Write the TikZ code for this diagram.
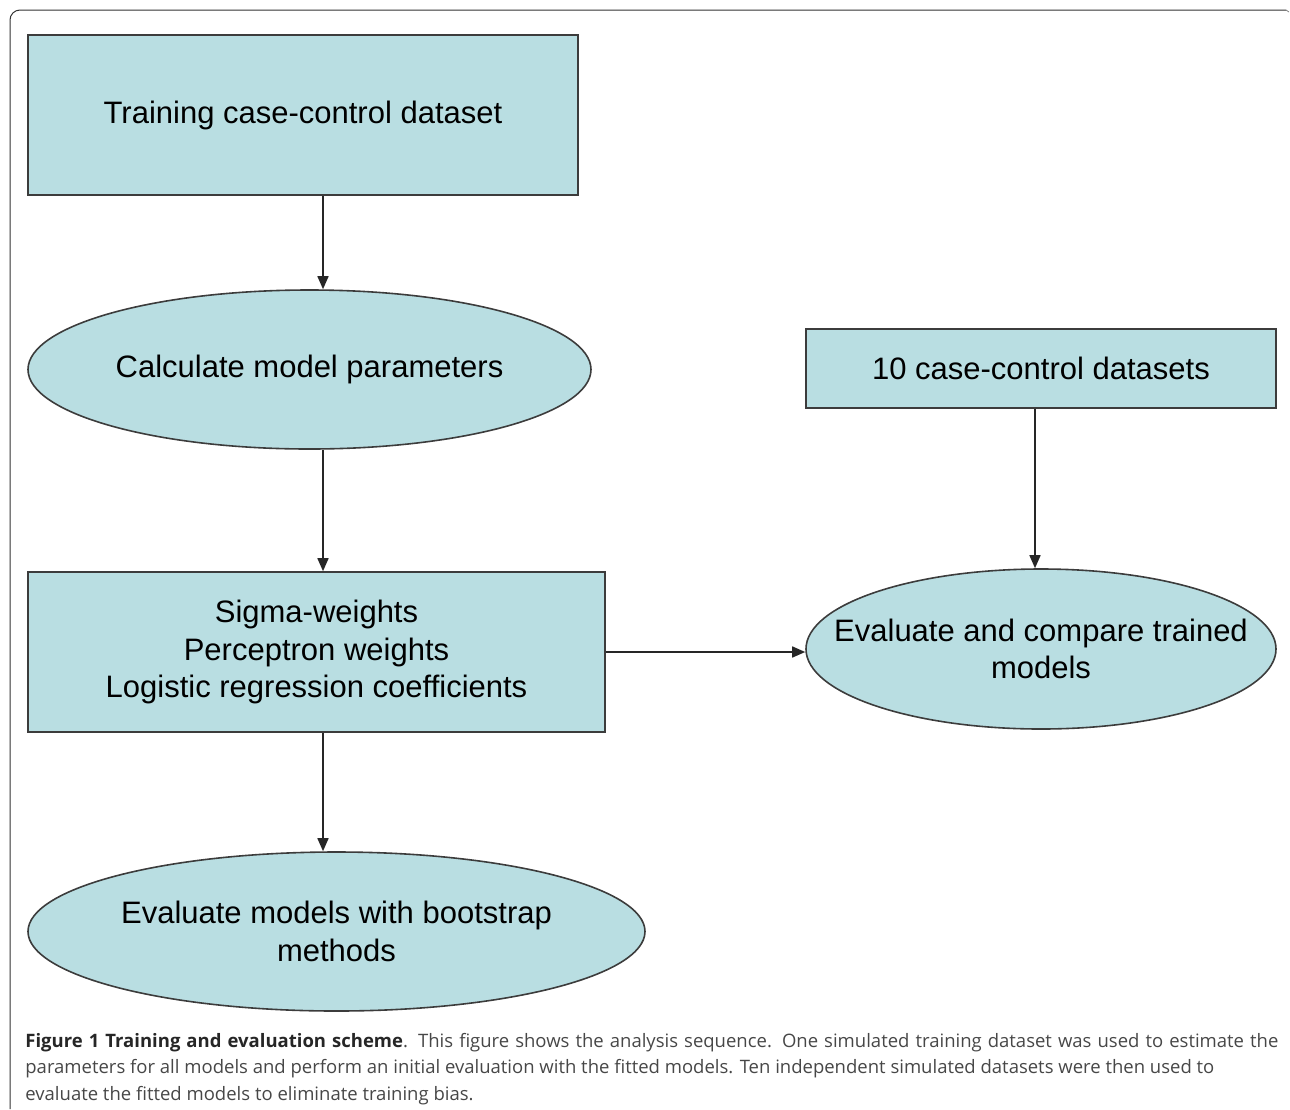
\documentclass[tikz,border=0pt]{standalone}
\usepackage{fontspec}
\setmainfont{Liberation Sans}
\newfontfamily\capfont{Open Sans}
\usetikzlibrary{shapes.geometric,arrows.meta}

\definecolor{boxfill}{RGB}{185,222,226}
\definecolor{boxline}{RGB}{60,60,60}

\begin{document}
\begin{tikzpicture}[x=1pt,y=-1pt,thick]

    \tikzset{block/.style={%
      draw=boxline,%
      fill=boxfill,%
      line width=1.6pt,%
      rectangle,%
      inner sep=0pt,%
      align=center,%
      font=\fontsize{31}{37.5}\selectfont}%
    };

    \tikzset{oval/.style={block, ellipse, inner xsep=-60pt}};

    \tikzset{link/.style={draw=black!85, line width=1.6pt,
      -{Triangle[length=13pt,width=11pt]}}};

    \useasboundingbox (0,0) rectangle (1290,1109);

    % frame round the figure
    \draw[black!80, line width=1pt, rounded corners=10pt]
      (10,1109) -- (10,10) -- (1286,10);
    \draw[black!50, line width=0.8pt] (1286,10) -- (1289,12);

    %%%%%%%%%%%%%%%
    %  training   %
    %%%%%%%%%%%%%%%
    \path (303, 115) node [block, minimum width=550pt, minimum height=160pt] (train) {Training case-control dataset};
    \path (309.5, 369.5) node [oval, minimum width=563pt, minimum height=159pt] (calc) {Calculate model parameters};
    \path (316.5, 652) node [block, minimum width=577pt, minimum height=160pt] (weights)
      {Sigma-weights\\Perceptron weights\\Logistic regression coefficients};
    \path (336.5, 931.5) node [oval, minimum width=617pt, minimum height=159pt] (boot)
      {Evaluate models with bootstrap\\methods};
    \coordinate (spine) at (323, 0);

    %%%%%%%%%%%%%%%
    %  test sets  %
    %%%%%%%%%%%%%%%
    \path (1041, 368.5) node [block, minimum width=470pt, minimum height=79pt] (sets) {10 case-control datasets};
    \path (1041, 649) node [oval, minimum width=470pt, minimum height=160pt] (comp)
      {Evaluate and compare trained\\models};
    \coordinate (testspine) at (1035, 0);

    \draw [link] (train.south -| spine) -- (calc.north -| spine);
    \draw [link] (calc.south -| spine) -- (weights.north -| spine);
    \draw [link] (weights.south -| spine) -- (boot.north -| spine);
    \draw [link] (sets.south -| testspine) -- (comp.north -| testspine);
    \draw [link] (weights.east) -- (comp.west |- weights.east);

    % caption
    \path (25, 1100) node [anchor=base west, align=left, inner sep=0pt,
      font=\capfont\fontsize{18.5}{26.5}\selectfont, text=black!72] (caption)
      {\makebox[1253pt][s]{\textbf{\color{black!85}Figure 1 Training and evaluation scheme}. This figure shows the analysis sequence. One simulated training dataset was used to estimate the}\\
       parameters for all models and perform an initial evaluation with the fitted models. Ten independent simulated datasets were then used to\\
       evaluate the fitted models to eliminate training bias.};

  \end{tikzpicture}
\end{document}
